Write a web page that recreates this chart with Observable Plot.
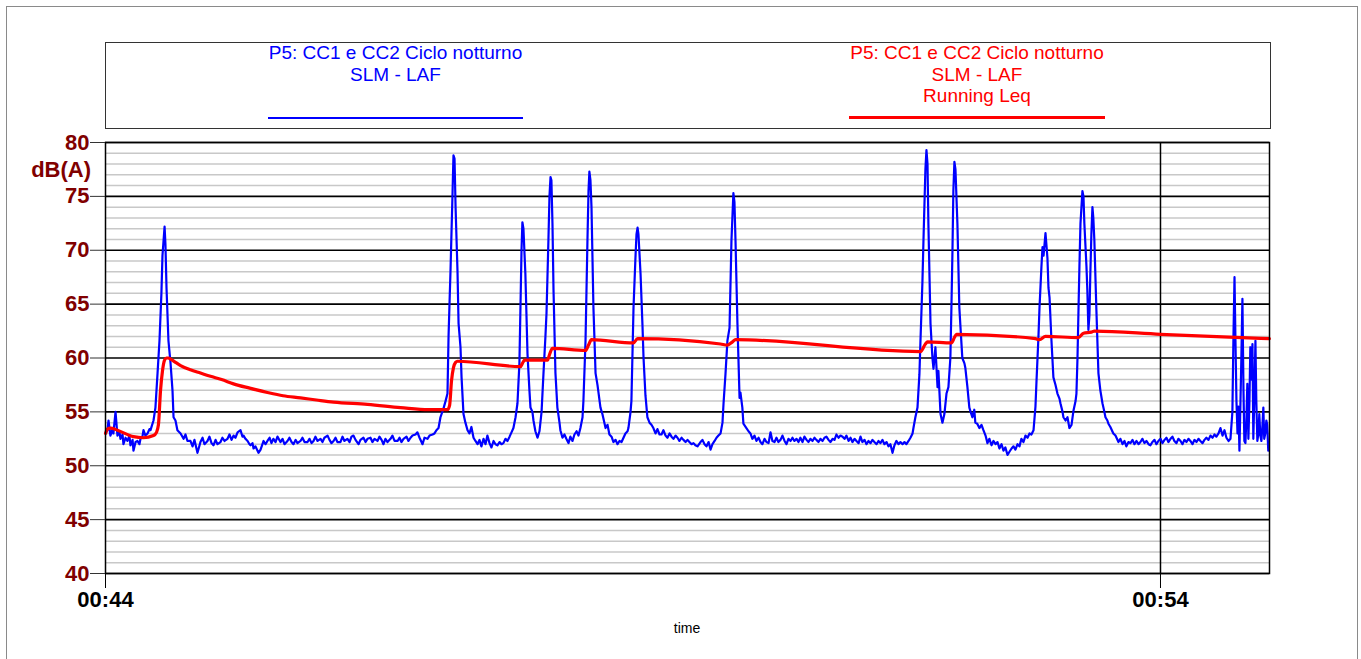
<!DOCTYPE html>
<html>
<head>
<meta charset="utf-8">
<script src="https://cdn.jsdelivr.net/npm/d3@7"></script>
<script src="https://cdn.jsdelivr.net/npm/@observablehq/plot@0.6"></script>
<style>
html,body{margin:0;padding:0;background:#fff;overflow:hidden;}
#page{position:relative;width:1361px;height:659px;overflow:hidden;font-family:"Liberation Sans",Arial,sans-serif;}
#outer{position:absolute;left:6px;top:6px;width:1352px;height:720px;border:1.5px solid #8a8a8a;box-sizing:border-box;}
#chart{position:absolute;left:0;top:0;}
#legendBox{position:absolute;left:105px;top:42px;width:1166px;height:87px;border:1.2px solid #333;box-sizing:border-box;}
.ltext{position:absolute;text-align:center;font-size:19px;line-height:21.5px;white-space:nowrap;}
.lline{position:absolute;}
#ylab{position:absolute;left:0;width:91px;top:156px;text-align:right;font-weight:bold;font-size:22px;line-height:28px;color:#800000;}
#xlab{position:absolute;left:587px;width:200px;top:619px;text-align:center;font-size:14px;line-height:18px;color:#000;}
</style>
</head>
<body>
<div id="page">
  <div id="outer"></div>
  <div id="chart"></div>
  <div id="legendBox"></div>
  <div id="leg1" class="ltext" style="left:258px;width:275px;top:42px;color:#0000ff;"></div>
  <div class="lline" style="left:268px;top:117px;width:255px;height:2px;background:#0000ff;"></div>
  <div id="leg2" class="ltext" style="left:839px;width:276px;top:42px;color:#ff0000;"></div>
  <div class="lline" style="left:849px;top:116px;width:256px;height:3px;background:#ff0000;"></div>
  <div id="ylab"></div>
  <div id="xlab"></div>
</div>
<script>
// ---- text ----
const seriesLabels = [
  ["P5: CC1 e CC2 Ciclo notturno", "SLM - LAF"],
  ["P5: CC1 e CC2 Ciclo notturno", "SLM - LAF", "Running Leq"]
];
const yAxisTitle = "dB(A)";
const xAxisTitle = "time";

// ---- axes ----
const startTime = [0, 44, 0];           // 00:44:00
const xEndSeconds = 662;                 // end of the record (s after 00:44:00)
const xTickSeconds = [0, 600];           // 00:44, 00:54
const gridSeconds = [600];
const yMajorTicks = [40, 45, 50, 55, 60, 65, 70, 75, 80];
const yMinorTicks = [41,42,43,44,46,47,48,49,51,52,53,54,56,57,58,59,61,62,63,64,66,67,68,69,71,72,73,74,76,77,78,79];

// ---- series: SLM - LAF  [seconds after 00:44:00, dB(A)] ----
const lafSamples = [
[0,53.0],[1.1,53.3],[1.7,54.2],[2.8,52.8],[4.0,53.4],[4.5,53.0],[5.7,55.0],[6.8,52.8],[8.0,53.1],[8.5,52.5],[9.7,52.9],[10.2,52.0],[11.4,52.6],[12.5,52.3],[13.6,52.8],[14.2,51.9],[15.4,52.4],[15.9,51.4],[17.1,52.2],[18.2,52.3],[19.3,52.0],[19.9,52.5],[21.0,52.7],[21.6,53.3],[22.7,52.8],[23.9,53.0],[25.0,53.4],[25.6,53.3],[27.3,54.2],[28.4,55.4],[29.6,58.6],[30.7,61.6],[31.8,66.0],[32.4,69.5],[33.6,72.2],[34.1,70.5],[34.7,66.5],[35.8,61.6],[37.0,59.5],[38.1,57.0],[38.7,54.5],[39.8,54.2],[40.9,53.3],[42.7,53.0],
[44.4,52.5],[45.5,52.9],[46.6,52.3],[48.3,52.3],[49.5,51.8],[50.6,52.4],[52.3,51.2],[53.5,51.9],[54.0,52.2],[55.2,52.6],[56.3,52.0],[58.0,52.3],[59.1,52.7],[60.3,52.1],[61.4,51.9],[62.6,52.4],[63.7,52.0],[65.4,52.2],[66.5,52.6],[67.7,52.3],[69.4,52.5],[70.5,52.9],[71.7,52.4],[72.8,52.8],[73.9,52.6],[75.1,53.1],[76.8,53.3],[77.9,52.7],[78.5,52.8],[79.6,52.5],[80.8,52.3],[81.9,52.0],[82.5,51.9],[83.6,52.1],[84.2,51.6],[85.3,51.8],[87.0,51.2],[88.2,51.5],[89.9,52.3],[91.0,52.0],[92.1,52.3],[93.3,52.6],[94.4,52.1],[95.5,52.5],[96.7,52.2],[97.8,52.7],[99.5,52.2],[100.7,52.5],[101.8,52.0],[103.5,52.3],[104.6,52.6],[105.8,52.2],[106.9,52.0],[108.1,52.4],[109.2,52.1],[110.9,52.3],[112.0,52.6],[113.2,52.2],[114.9,52.2],[116.0,52.5],[117.2,52.1],[118.3,52.3],[119.4,52.7],[120.6,52.3],[122.3,52.5],[123.4,52.2],[124.5,52.6],[126.3,52.8],[127.4,52.4],[128.5,52.1],[129.7,52.3],[130.8,52.6],[131.9,52.2],[133.6,52.2],[134.8,52.7],[135.9,52.3],[137.6,52.5],[138.8,52.2],[139.9,52.7],[141.0,52.8],[142.2,52.4],[143.9,52.0],[145.0,52.4],[146.7,52.6],[147.9,52.2],[149.0,52.5],[150.7,52.6],[151.8,52.2],[153.0,52.5],[154.7,52.3],[155.8,52.7],[157.0,52.4],[158.1,52.0],[159.2,52.5],[160.4,52.2],[162.1,52.5],[163.2,52.8],[164.4,52.3],[166.1,52.3],[167.2,52.6],[168.3,52.2],[169.5,52.5],[171.2,52.7],[172.3,52.3],[173.5,52.6],[174.6,52.8],[176.3,52.9],[177.4,53.1],[178.6,52.6],[180.3,52.0],[181.4,52.6],[183.1,52.5],[184.3,52.8],[186.0,52.9],
[187.1,53.0],[188.2,53.3],[189.4,53.5],[190.5,54.5],[192.2,55.3],[193.4,56.0],[194.5,56.7],[195.1,62.0],[195.7,65.3],[196.2,68.0],[197.4,75.5],[197.9,78.8],[198.5,78.5],[199.1,74.0],[200.2,68.0],[200.8,63.2],[201.9,61.0],[202.5,58.2],[203.6,54.8],[204.7,54.0],[205.9,53.3],[207.0,53.0],[208.1,53.6],[209.3,52.6],[210.4,52.3],[211.6,52.0],[212.7,52.4],[213.8,51.8],[215.0,52.5],[216.1,52.0],[217.2,52.8],[218.4,52.1],[219.5,51.7],[220.7,52.3],[221.8,52.0],[222.9,51.9],[224.1,52.2],[225.2,52.0],[226.3,52.1],[227.5,52.5],[228.6,52.3],[229.8,52.7],[230.9,53.1],
[232.0,53.5],[233.2,54.5],[234.3,55.8],[235.4,59.5],[236.0,64.7],[236.6,70.0],[237.1,72.6],[237.7,72.0],[238.8,67.8],[240.0,60.4],[241.1,57.0],[241.7,55.4],[242.8,55.0],[243.4,54.2],[244.5,53.2],[245.7,52.6],[246.8,53.2],[248.0,55.0],[249.1,58.6],[250.2,62.0],[250.8,64.1],[251.9,70.9],[252.5,75.0],[253.1,76.8],[253.6,76.5],[254.2,72.5],[254.8,66.3],[255.9,58.6],[257.0,55.4],[258.2,54.0],[258.7,53.3],[259.9,52.6],[261.0,52.9],[262.1,52.5],[263.3,52.1],[264.4,52.7],[265.6,52.3],[266.7,52.9],[267.9,53.2],[269.0,52.8],[270.1,53.5],
[271.3,54.5],[271.8,56.0],[273.0,61.6],[274.1,70.9],[274.7,75.5],[275.2,77.3],[275.8,76.5],[276.4,74.0],[277.5,64.7],[278.7,58.6],[279.8,57.5],[281.5,55.4],[282.6,54.8],[284.4,53.5],[285.5,53.8],[286.6,52.9],[287.8,52.7],[288.9,52.2],[290.1,52.4],[291.2,52.0],[292.3,52.3],[293.5,52.2],[294.6,52.6],[295.7,53.0],[296.9,53.2],[297.4,53.5],
[298.6,55.0],[299.1,56.0],[300.3,64.7],[301.4,69.3],[302.0,71.5],[302.6,72.1],[303.1,71.5],[304.3,67.8],[305.4,63.0],[306.0,60.0],[307.1,56.5],[308.2,54.5],[309.4,54.0],[310.5,53.8],[311.6,53.5],[312.8,53.0],[313.9,53.4],[315.1,52.9],[316.2,52.9],[317.3,53.3],[318.5,52.8],[319.6,52.6],[320.8,53.0],[321.9,52.7],[323.0,52.5],[324.2,52.8],[325.3,52.6],[326.4,52.3],[327.6,52.6],[328.7,52.4],[329.9,52.2],[331.0,52.4],[332.1,52.2],[333.3,52.0],[334.4,52.1],[335.5,51.9],[336.7,51.8],[338.4,52.2],[339.5,52.4],[340.7,52.0],[341.8,51.8],[343.0,52.2],[344.1,51.5],[345.2,52.0],[346.4,52.3],[347.5,52.6],[348.6,52.8],[349.8,53.0],
[350.9,54.0],[351.5,55.8],[352.6,58.5],[353.7,61.6],[354.9,62.8],[356.0,70.9],[357.1,75.3],[357.7,74.5],[358.3,70.9],[359.4,63.2],[360.6,56.3],[361.1,56.8],[362.2,55.4],[362.8,53.9],[364.5,53.5],[365.7,53.2],[366.8,53.0],[367.9,52.5],[369.1,52.8],[370.2,52.3],[371.4,52.6],[372.5,52.2],[373.6,52.0],[374.8,52.5],[375.9,52.2],[377.1,52.1],[378.2,53.1],[379.3,52.3],[380.5,52.2],[381.6,52.6],[382.7,52.2],[383.9,52.4],[385.0,52.8],[386.2,52.3],[387.3,52.0],[388.4,52.5],[389.6,52.3],[390.7,52.6],[391.8,52.3],[393.0,52.5],[394.1,52.2],[395.2,52.6],[396.4,52.2],[397.5,52.7],[398.7,52.4],[399.8,52.2],[400.9,52.5],[402.1,52.3],[403.2,52.6],[404.3,52.4],[405.5,52.2],[406.6,52.5],[407.8,52.3],[408.9,52.6],[410.0,52.7],[411.2,52.4],[412.3,52.2],[413.5,52.5],[414.6,52.4],[415.7,52.9],[416.9,52.6],[418.0,52.8],[419.2,52.7],[420.3,52.5],[421.4,52.8],[422.6,52.3],[423.7,52.6],[424.8,52.2],[426.0,52.5],[427.1,52.3],[428.3,52.1],[429.4,52.7],[430.5,52.2],[431.7,52.4],[432.8,52.0],[433.9,52.3],[435.1,52.1],[436.2,52.4],[437.3,52.2],[438.5,52.0],[439.6,52.3],[440.7,52.1],[441.9,52.4],[443.0,52.0],[444.2,52.2],[445.3,51.8],[446.4,52.0],[447.6,51.2],[448.7,51.9],[449.8,52.3],[451.0,52.0],[452.1,52.2],[453.3,52.0],[454.4,52.2],[455.5,52.0],[456.7,52.3],[457.8,52.6],[459.0,53.0],
[459.5,53.5],[460.6,54.5],[461.8,55.4],[462.9,58.5],[463.5,61.6],[464.6,67.0],[465.2,70.9],[466.3,77.5],[466.9,79.3],[467.5,78.0],[468.0,72.5],[469.2,63.2],[470.3,60.0],[470.9,59.0],[472.0,61.0],[473.2,57.3],[473.7,58.8],[474.9,54.8],[476.0,54.0],[477.1,54.8],[478.3,56.7],[479.4,57.3],[480.5,60.0],[481.1,64.7],[481.7,70.0],[482.2,75.5],[482.8,78.2],[483.4,77.5],[484.5,72.5],[485.6,64.7],[486.2,63.0],[487.3,60.0],[488.5,59.5],[489.0,59.1],[490.2,57.3],[491.3,55.4],[492.4,54.8],[493.0,54.5],[494.1,55.2],[494.7,54.0],[495.8,53.9],[497.0,53.5],[498.2,53.8],[499.3,53.3],[500.5,52.8],[501.6,52.1],[502.7,52.5],[503.9,51.9],[505.0,52.3],[506.2,52.0],[507.3,52.2],[508.4,51.6],[509.6,52.0],[510.7,51.4],[511.8,51.7],[513.0,51.0],[514.1,51.3],[515.3,51.6],[516.4,51.8],[517.5,51.5],[518.7,52.0],[519.8,51.8],[520.9,52.5],[522.1,52.2],[523.2,52.8],[524.4,52.6],[525.5,53.0],[526.6,52.9],[527.8,53.3],
[528.9,55.5],[529.5,57.9],[530.6,62.0],[531.2,64.7],[532.3,68.5],[532.9,70.3],[533.5,69.5],[534.6,71.6],[535.7,69.3],[536.3,66.5],[536.9,65.6],[538.0,61.6],[539.1,58.2],[540.3,57.5],[541.4,56.7],[542.6,56.2],[543.1,55.8],[544.3,55.0],[544.8,54.5],[546.0,54.2],[547.1,54.5],[548.2,53.5],[549.4,53.8],[550.5,55.1],[551.7,56.0],[552.2,56.7],[552.8,60.0],[553.4,64.7],[553.9,68.5],[554.5,72.5],[555.6,75.5],[556.2,75.0],[556.7,72.5],[557.9,68.5],[558.4,66.3],[559.0,62.6],[559.6,64.0],[560.1,67.8],[560.7,71.5],[561.3,74.0],[561.8,73.0],[562.4,70.9],[563.5,64.7],[564.7,58.6],[565.8,57.0],[567.0,55.8],[568.1,55.0],[568.7,54.5],[569.8,54.2],[570.4,53.9],[571.5,53.6],[573.2,53.0],[574.4,52.8],[576.1,52.2],[577.2,52.5],[578.4,52.0],[579.5,52.3],[580.6,51.8],[581.8,52.2],[582.9,52.1],[584.1,52.4],[585.2,52.0],[586.3,52.3],[587.5,52.0],[588.6,52.2],[589.7,52.5],[590.9,52.1],[592.0,52.3],[593.2,52.0],[594.3,51.9],[595.4,52.2],[596.6,52.4],[597.7,52.0],[598.8,52.3],[600.0,52.5],[601.1,52.1],[602.3,52.4],[603.4,52.6],[604.5,52.2],[605.7,52.5],[606.8,52.7],[607.9,52.3],[609.1,52.1],[610.2,52.5],[611.4,52.3],[612.5,52.0],[613.6,52.4],[614.8,52.2],[615.9,52.5],[617.0,52.3],[618.2,52.0],[619.3,52.4],[620.5,52.2],[621.6,52.5],[622.7,52.3],[623.9,52.1],[625.0,52.4],[626.1,52.6],[627.3,52.4],[628.4,52.8],[629.6,52.6],[630.7,52.9],[631.8,52.7],[633.0,53.0],[634.1,53.5],[635.3,52.8],[636.4,53.3],[637.5,52.6],[638.7,52.3],[639.8,52.5],
[640.9,55.0],[641.5,62.0],[642.1,67.5],[642.6,62.0],[643.2,56.0],[643.8,53.0],[644.3,55.5],[644.9,51.4],[645.5,56.0],[646.0,60.0],[646.6,65.5],[647.2,57.0],[647.7,52.3],[648.3,52.1],[648.9,54.5],[649.4,57.6],[650.0,52.5],[650.6,56.0],[651.1,61.0],[651.7,58.0],[652.3,61.3],[652.8,52.5],[653.4,56.5],[654.0,61.6],[654.5,56.0],[655.1,52.3],[655.7,53.0],[656.2,54.8],[656.8,52.8],[657.4,52.3],[657.9,53.5],[658.5,55.4],[659.0,52.5],[659.6,53.0],[660.2,54.2],[660.7,53.8],[661.3,51.4]
];

// ---- series: Running Leq  [seconds after 00:44:00, dB(A)] ----
const leqSamples = [
[0,53.0],[1.1,53.4],[2.8,53.5],[6.8,53.3],[15.9,52.7],[21.6,52.6],[27.3,52.8],[29.0,53.1],[30.1,53.8],[31.3,57.0],[32.4,58.8],[33.6,59.8],[34.7,60.0],[35.8,60.0],[37.0,59.9],[39.8,59.6],[42.7,59.3],[48.3,58.9],[54.0,58.6],[59.7,58.3],[66.0,58.0],[72.8,57.6],[82.0,57.2],[92.1,56.8],[101.0,56.5],[110.9,56.3],[120.0,56.1],[129.7,55.9],[149.0,55.7],[167.8,55.4],[183.7,55.2],[194.5,55.2],[195.7,55.6],[196.8,57.9],[197.9,59.1],[199.1,59.6],[200.2,59.7],[236.0,59.2],[237.1,59.5],[238.3,59.8],[251.4,59.8],[252.5,60.3],[254.2,60.9],[273.0,60.7],[274.7,61.2],[276.4,61.7],[300.3,61.4],[302.6,61.8],[349.8,61.3],[353.7,61.2],[356.6,61.5],[358.3,61.7],[463.5,60.6],[466.3,61.3],[467.5,61.5],[481.1,61.4],[482.8,61.9],[484.0,62.2],[528.9,61.8],[531.2,61.7],[534.6,62.0],[553.4,61.9],[556.2,62.3],[560.7,62.4],[562.4,62.5],[600.0,62.2],[661.9,61.8]
];

// ---- build ----
const t0 = Date.UTC(2000, 0, 1, startTime[0], startTime[1], startTime[2]);
const toDate = s => new Date(t0 + s * 1000);
const laf = lafSamples.map(([s, v]) => ({time: toDate(s), db: v}));
const leq = leqSamples.map(([s, v]) => ({time: toDate(s), db: v}));

document.getElementById("leg1").innerHTML = seriesLabels[0].join("<br>");
document.getElementById("leg2").innerHTML = seriesLabels[1].join("<br>");
document.getElementById("ylab").textContent = yAxisTitle;
document.getElementById("xlab").textContent = xAxisTitle;

const chart = Plot.plot({
  width: 1361,
  height: 659,
  marginLeft: 105,
  marginRight: 92,
  marginTop: 142,
  marginBottom: 86,
  style: {fontFamily: '"Liberation Sans", Arial, sans-serif', background: "transparent", overflow: "visible"},
  x: {type: "utc", domain: [toDate(0), toDate(xEndSeconds)]},
  y: {domain: [40, 80]},
  marks: [
    Plot.ruleY(yMinorTicks, {stroke: "#c8c8c8", strokeWidth: 1.5}),
    Plot.ruleY(yMajorTicks, {stroke: "#000", strokeWidth: 1.6}),
    Plot.ruleX(gridSeconds.map(toDate), {stroke: "#000", strokeWidth: 1.5}),
    Plot.line(laf, {x: "time", y: "db", stroke: "#0000ff", strokeWidth: 2.2}),
    Plot.line(leq, {x: "time", y: "db", stroke: "#ff0000", strokeWidth: 3.2, curve: "monotone-x"}),
    Plot.frame({stroke: "#000", strokeWidth: 1.5}),
    Plot.axisY({ticks: yMajorTicks, tickSize: 15, tickPadding: 1, fontSize: 22, fontWeight: "bold", fill: "#800000", stroke: "#333", label: null}),
    Plot.axisX({ticks: xTickSeconds.map(toDate), tickSize: 15, tickPadding: 3, fontSize: 22, fontWeight: "bold", fill: "#000", stroke: "#000", tickFormat: d3.utcFormat("%H:%M"), label: null})
  ]
});
document.getElementById("chart").appendChild(chart);
</script>
</body>
</html>
